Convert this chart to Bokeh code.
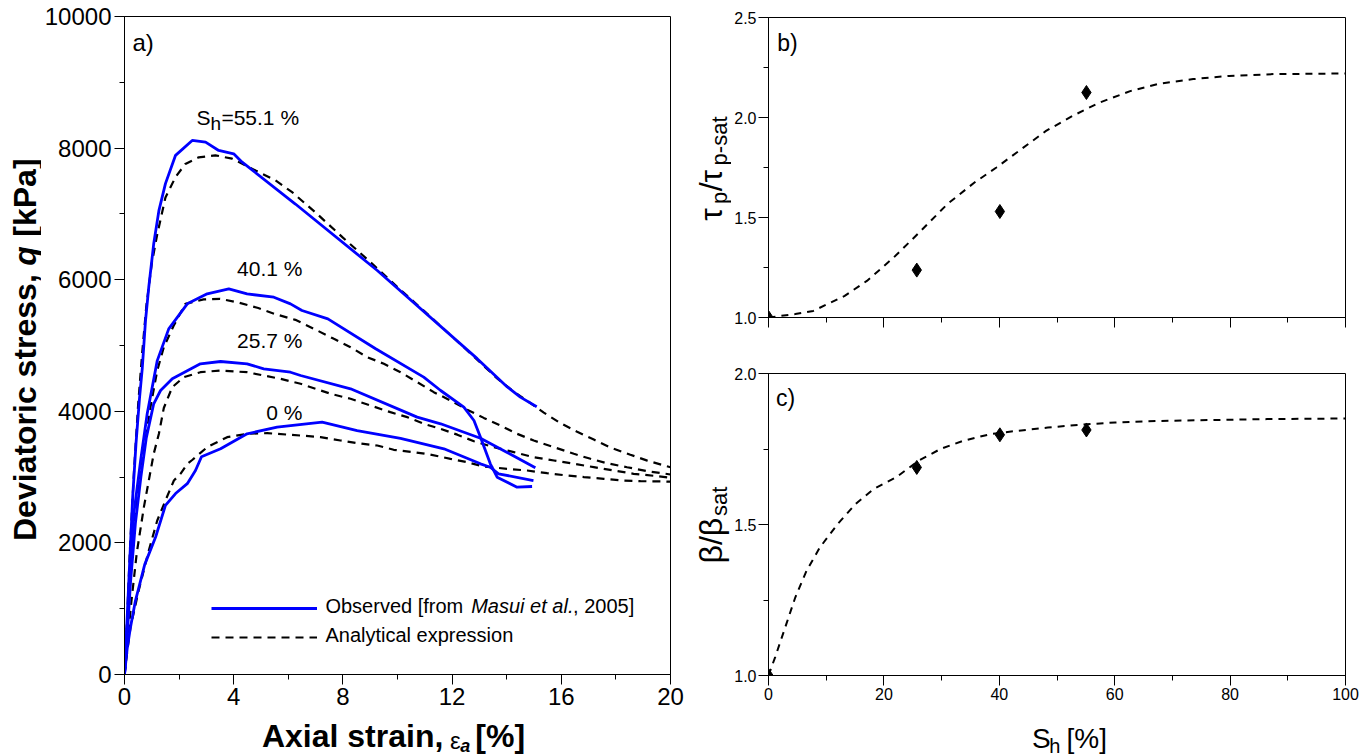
import math
from bokeh.plotting import figure
from bokeh.models import (Range1d, SingleIntervalTicker, PrintfTickFormatter, Legend, LegendItem,
                          Label, CustomJSTickFormatter)
from bokeh.layouts import row, column
from bokeh.embed import file_html
from bokeh.resources import INLINE

# ---------------- data: panel a (observed, blue) ----------------
obs_551_x = [0, 0.08, 0.2, 0.3, 0.42, 0.55, 0.65, 0.77, 0.89, 1.07, 1.26, 1.5, 1.87, 2.48, 2.97, 3.45, 4.0, 4.31, 6.26, 9.26, 12.92, 14.02, 14.5, 15.1]
obs_551_q = [0, 700, 1800, 2700, 3500, 4200, 4650, 5380, 5890, 6545, 7050, 7460, 7890, 8116, 8090, 7964, 7913, 7786, 7150, 6140, 4800, 4370, 4215, 4070]

obs_401_x = [0, 0.1, 0.2, 0.34, 0.59, 0.83, 1.2, 1.62, 2.3, 3.03, 3.82, 4.49, 5.47, 6.08, 6.5, 7.45, 9.2, 10.96, 11.58, 12.43, 12.8, 13.04, 13.4, 13.65, 14.38, 14.93]
obs_401_q = [0, 700, 1500, 2440, 3250, 3960, 4770, 5253, 5633, 5785, 5861, 5785, 5734, 5633, 5532, 5405, 4950, 4519, 4316, 4062, 3860, 3606, 3202, 2999, 2847, 2857]

obs_257_x = [0, 0.1, 0.22, 0.4, 0.6, 0.8, 1.07, 1.32, 1.75, 2.78, 3.52, 4.49, 5.1, 6.08, 6.45, 8.28, 10.72, 11.58, 13.04, 14.0, 15.05]
obs_257_q = [0, 600, 1400, 2300, 3000, 3600, 4114, 4316, 4494, 4722, 4757, 4722, 4646, 4594, 4544, 4342, 3911, 3810, 3590, 3379, 3141]

obs_0_x = [0, 0.1, 0.22, 0.4, 0.74, 1.14, 1.5, 1.87, 2.3, 2.6, 2.82, 3.52, 4.49, 5.59, 7.24, 8.52, 10.11, 11.7, 13.04, 13.4, 13.7, 14.98]
obs_0_q = [0, 400, 720, 1120, 1670, 2090, 2570, 2750, 2900, 3100, 3310, 3430, 3658, 3758, 3834, 3708, 3590, 3430, 3202, 3150, 3050, 2948]

# ---------------- data: panel a (analytical, dashed) ----------------
ana_551_x = [0, 0.1, 0.2, 0.35, 0.5, 0.65, 0.8, 1.0, 1.2, 1.5, 1.87, 2.23, 2.72, 3.33, 3.94, 4.8, 5.53, 6.14, 7, 8, 9, 10.1, 10.96, 11.7, 12.67, 13.16, 13.65, 14.26, 14.75, 15.36, 15.97, 16.58, 17.19, 17.8, 18.53, 19.15, 20]
ana_551_q = [0, 900, 1900, 3100, 4100, 4900, 5600, 6250, 6690, 7250, 7560, 7760, 7860, 7890, 7840, 7660, 7510, 7330, 7020, 6640, 6270, 5850, 5530, 5250, 4880, 4690, 4500, 4300, 4160, 3980, 3820, 3690, 3570, 3450, 3340, 3250, 3150]

ana_401_x = [0, 0.1, 0.2, 0.35, 0.59, 0.77, 0.95, 1.2, 1.44, 1.8, 2.23, 2.9, 3.5, 4.2, 4.9, 5.5, 6.26, 7.06, 7.67, 8.28, 8.89, 9.5, 10.11, 10.72, 11.33, 11.94, 12.55, 13.16, 13.77, 14.38, 14.99, 15.73, 16.46, 17.07, 17.68, 18.41, 19.15, 20]
ana_401_q = [0, 650, 1350, 2300, 3050, 3560, 4060, 4620, 4975, 5300, 5633, 5700, 5710, 5650, 5570, 5480, 5390, 5228, 5101, 4975, 4823, 4722, 4594, 4443, 4291, 4164, 4025, 3900, 3784, 3658, 3556, 3455, 3354, 3278, 3210, 3150, 3090, 3040]

ana_257_x = [0, 0.1, 0.25, 0.45, 0.71, 0.89, 1.07, 1.26, 1.44, 1.75, 2.17, 2.78, 3.52, 4.49, 5.1, 5.71, 6.45, 7.55, 8.28, 9.01, 9.74, 10.36, 10.96, 11.58, 12.19, 12.8, 13.53, 14.26, 14.99, 15.73, 16.46, 17.19, 17.92, 18.65, 19.39, 20]
ana_257_q = [0, 450, 1100, 1850, 2543, 2948, 3354, 3658, 4050, 4367, 4519, 4594, 4620, 4594, 4544, 4494, 4418, 4266, 4190, 4088, 3987, 3911, 3810, 3734, 3645, 3545, 3455, 3379, 3303, 3252, 3202, 3151, 3100, 3050, 3020, 2990]

ana_0_x = [0, 0.1, 0.22, 0.52, 0.89, 1.2, 1.5, 1.81, 2.05, 2.3, 2.48, 3.03, 3.76, 4.49, 5.23, 6.45, 7.18, 7.91, 8.52, 9.26, 9.86, 10.6, 11.2, 11.94, 12.55, 13.16, 14.02, 14.75, 15.48, 16.22, 16.83, 17.56, 18.29, 18.9, 19.63, 20]
ana_0_q = [0, 350, 719, 1277, 1885, 2340, 2644, 2948, 3050, 3200, 3260, 3455, 3607, 3658, 3668, 3632, 3607, 3556, 3516, 3480, 3415, 3379, 3343, 3278, 3227, 3161, 3126, 3100, 3060, 3024, 3000, 2974, 2948, 2938, 2935, 2930]

# ---------------- data: panel b ----------------
sh_points = [0, 25.7, 40.1, 55.1]
tau_ratio = [1.0, 1.237, 1.53, 2.125]
b_fit_x = [0, 4.65, 7.75, 13.2, 17.05, 21.7, 26.4, 31.0, 35.7, 39.5, 43.4, 48.1, 52.7, 57.4, 62.8, 67.4, 73.6, 79.8, 87.6, 100]
b_fit_y = [1.0, 1.017, 1.033, 1.108, 1.183, 1.30, 1.433, 1.567, 1.675, 1.75, 1.833, 1.933, 2.008, 2.075, 2.133, 2.167, 2.192, 2.208, 2.217, 2.22]

# ---------------- data: panel c ----------------
beta_ratio = [1.0, 1.689, 1.797, 1.813]
c_fit_x = [0, 1.16, 3.1, 4.65, 6.6, 8.9, 12.0, 15.1, 18.2, 22.1, 26.0, 29.8, 33.7, 38.4, 43.0, 48.4, 53.9, 60.1, 67.8, 77.1, 86.4, 100]
c_fit_y = [1.0, 1.061, 1.171, 1.259, 1.347, 1.424, 1.502, 1.568, 1.617, 1.656, 1.711, 1.750, 1.777, 1.799, 1.810, 1.821, 1.830, 1.838, 1.843, 1.846, 1.849, 1.851]

FONT = "Liberation Sans"
BLUE = "#0000ff"
VERT = math.pi / 2


def style_axes(p, tick_size, standoff):
    for ax in (p.xaxis[0], p.yaxis[0]):
        ax.major_tick_in = 0
        ax.major_tick_out = 10
        ax.minor_tick_in = 0
        ax.minor_tick_out = 5
        ax.axis_line_color = "black"
        ax.major_tick_line_color = "black"
        ax.minor_tick_line_color = "black"
        ax.major_label_text_font = FONT
        ax.major_label_text_font_size = tick_size
        ax.major_label_text_color = "black"
        ax.major_label_standoff = standoff
    p.xgrid.visible = False
    p.ygrid.visible = False
    p.outline_line_color = "black"
    p.outline_line_alpha = 1.0
    p.outline_line_width = 1


def txt(p, x, y, text, size, style="normal", align="left", angle=0.0):
    p.add_layout(Label(x=x, y=y, text=text, text_align=align, text_baseline="middle",
                       text_font=FONT, text_font_size=size, text_font_style=style,
                       text_color="black", angle=angle))


def text_box(w, h):
    """A bare figure used only to hold axis titles (pixel coordinates, origin bottom-left)."""
    f = figure(width=w, height=h, output_backend="svg", toolbar_location=None,
               x_range=Range1d(0, w), y_range=Range1d(0, h), x_axis_type=None, y_axis_type=None,
               min_border=0, min_border_left=0, min_border_right=0, min_border_top=0, min_border_bottom=0)
    f.xgrid.visible = False
    f.ygrid.visible = False
    f.outline_line_color = None
    return f


# ================= panel a =================
pa = figure(width=649, height=718, output_backend="svg", toolbar_location=None,
            x_range=Range1d(0, 20), y_range=Range1d(0, 10000),
            min_border_left=83, min_border_right=20, min_border_top=16, min_border_bottom=44)
pa.xaxis.ticker = SingleIntervalTicker(interval=4, num_minor_ticks=2)
pa.yaxis.ticker = SingleIntervalTicker(interval=2000, num_minor_ticks=2)
pa.yaxis.formatter = PrintfTickFormatter(format="%d")
pa.xaxis.formatter = PrintfTickFormatter(format="%d")
style_axes(pa, "24px", 3)

dash = "8 6"
ana_series = [(ana_551_x, ana_551_q), (ana_401_x, ana_401_q), (ana_257_x, ana_257_q), (ana_0_x, ana_0_q)]
obs_series = [(obs_551_x, obs_551_q), (obs_401_x, obs_401_q), (obs_257_x, obs_257_q), (obs_0_x, obs_0_q)]
ana_r = [pa.line(xs, ys, line_color="black", line_width=2.2, line_dash=dash) for xs, ys in ana_series]
obs_r = [pa.line(xs, ys, line_color=BLUE, line_width=2.8) for xs, ys in obs_series]

legend = Legend(items=[LegendItem(label=" ", renderers=[obs_r[0]]),
                       LegendItem(label=" ", renderers=[ana_r[0]])],
                location=(87, 27), glyph_width=106, glyph_height=20, label_height=20,
                spacing=9, padding=0, margin=0, label_standoff=4,
                border_line_alpha=0, background_fill_alpha=0,
                label_text_font=FONT, label_text_font_size="10px")
pa.add_layout(legend)
txt(pa, 7.36, 1034, "Observed [from", "20px")
txt(pa, 12.70, 1034, "Masui et al.", "20px", style="italic")
txt(pa, 16.43, 1034, ", 2005]", "20px")
txt(pa, 7.36, 593, "Analytical expression", "20px")

txt(pa, 3.15, 8459, "S", "21px", align="right")
txt(pa, 3.15, 8380, "h", "19px")
txt(pa, 3.55, 8459, "=55.1 %", "21px")
for t, yv in [("40.1 %", 6163), ("25.7 %", 5069), ("0 %", 3982)]:
    txt(pa, 6.52, yv, t, "21px", align="right")
txt(pa, 0.29, 9600, "a)", "24px")

# y title of panel a
ya = text_box(41, 756)
txt(ya, 24, 482.3, "Deviatoric stress,", "32px", style="bold", align="right", angle=VERT)
txt(ya, 24, 490.8, "q", "32px", style="bold italic", angle=VERT)
txt(ya, 24, 519.8, "[kPa]", "32px", style="bold", angle=VERT)

# x title of panel a
xa = text_box(649, 38)
txt(xa, 379, 20.5, "Axial strain,", "32px", style="bold", align="right")
txt(xa, 387, 16, "\u03b5", "24px")
txt(xa, 399, 11, "a", "18px", style="bold italic")
txt(xa, 417, 20.5, "[%]", "32px", style="bold")

# ================= panel b =================
pb = figure(width=633, height=356, output_backend="svg", toolbar_location=None,
            x_range=Range1d(0, 100), y_range=Range1d(1.0, 2.5),
            min_border_left=36, min_border_right=19, min_border_top=17, min_border_bottom=39)
pb.xaxis.ticker = SingleIntervalTicker(interval=20, num_minor_ticks=2)
pb.yaxis.ticker = SingleIntervalTicker(interval=0.5, num_minor_ticks=2)
pb.yaxis.formatter = PrintfTickFormatter(format="%.1f")
pb.xaxis.formatter = CustomJSTickFormatter(code="return ''")
style_axes(pb, "16px", 2)
pb.line(b_fit_x, b_fit_y, line_color="black", line_width=2, line_dash="7 6")
pb.scatter(sh_points, tau_ratio, marker="diamond", size=14, fill_color="black", line_color="black")
txt(pb, 1.5, 2.375, "b)", "23px")

# ================= panel c =================
pc = figure(width=633, height=355, output_backend="svg", toolbar_location=None,
            x_range=Range1d(0, 100), y_range=Range1d(1.0, 2.0),
            min_border_left=36, min_border_right=19, min_border_top=17, min_border_bottom=36)
pc.xaxis.ticker = SingleIntervalTicker(interval=20, num_minor_ticks=2)
pc.yaxis.ticker = SingleIntervalTicker(interval=0.5, num_minor_ticks=2)
pc.yaxis.formatter = PrintfTickFormatter(format="%.1f")
pc.xaxis.formatter = PrintfTickFormatter(format="%d")
style_axes(pc, "16px", 2)
pc.line(c_fit_x, c_fit_y, line_color="black", line_width=2, line_dash="7 6")
pc.scatter(sh_points, beta_ratio, marker="diamond", size=14, fill_color="black", line_color="black")
txt(pc, 1.3, 1.92, "c)", "23px")

# y titles of panels b and c
ybc = text_box(41, 756)
txt(ybc, 20.5, 535.7, "\u03c4", "32px", angle=VERT)
txt(ybc, 28.5, 552.4, "p", "22px", angle=VERT)
txt(ybc, 20.5, 565.2, "/\u03c4", "32px", angle=VERT)
txt(ybc, 28.5, 591.1, "p-sat", "22px", angle=VERT)
txt(ybc, 20.5, 193.0, "\u03b2/\u03b2", "32px", angle=VERT)
txt(ybc, 28.5, 240.4, "sat", "22px", angle=VERT)

# x title of panel c
xc = text_box(633, 45)
txt(xc, 289, 18.5, "S", "28px")
txt(xc, 308, 11, "h", "20px")
txt(xc, 327, 18.5, "[%]", "28px")

left_block = row(ya, column(pa, xa))
right_block = row(ybc, column(pb, pc, xc))
layout = row(left_block, right_block)
open("out.html", "w").write(file_html(layout, INLINE))
